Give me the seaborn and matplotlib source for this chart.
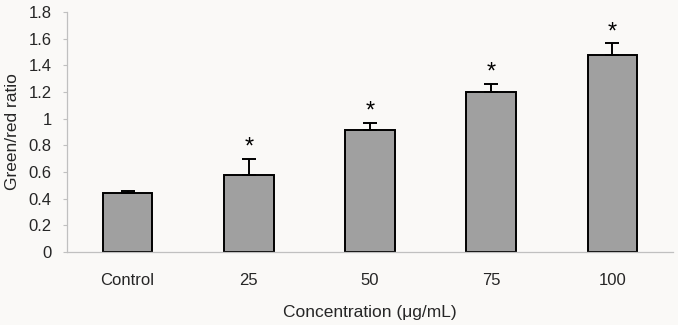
import matplotlib
matplotlib.use("Agg")
import matplotlib.pyplot as plt
import seaborn as sns
import numpy as np
import pandas as pd

categories = ["Control", "25", "50", "75", "100"]
ratio = [0.44, 0.58, 0.915, 1.20, 1.48]
err = [0.02, 0.12, 0.055, 0.06, 0.085]
significant = [False, True, True, True, True]
yticks = [0, 0.2, 0.4, 0.6, 0.8, 1.0, 1.2, 1.4, 1.6, 1.8]
ytick_labels = ["0", "0.2", "0.4", "0.6", "0.8", "1", "1.2", "1.4", "1.6", "1.8"]

sns.set_theme(style="white")
plt.rcParams["font.family"] = ["Liberation Sans", "DejaVu Sans"]

bg = "#faf9f7"
fig = plt.figure(figsize=(6.78, 3.25), dpi=100, facecolor=bg)
ax = fig.add_axes([0.0988, 0.2246, 0.8938, 0.7384], facecolor=bg)

df = pd.DataFrame({"cat": categories, "val": ratio})
sns.barplot(data=df, x="cat", y="val", color="#a0a0a0", saturation=1,
            edgecolor="black", linewidth=1.4, width=0.41, ax=ax, errorbar=None)

xs = [p.get_x() + p.get_width() / 2 for p in ax.patches]
ax.errorbar(xs, ratio, yerr=[np.zeros(len(err)), err], fmt="none",
            ecolor="black", elinewidth=1.4, capsize=5, capthick=1.4, zorder=5)
for x, v, e, s in zip(xs, ratio, err, significant):
    if s:
        ax.text(x, v + e + 0.0, "*", ha="center", va="bottom", fontsize=17, color="black")

ax.set_xlim(-0.5, 4.5)
ax.set_ylim(0, 1.8)
ax.set_yticks(yticks)
ax.set_yticklabels(ytick_labels, fontsize=12)
ax.set_xticks(range(len(categories)))
ax.set_xticklabels(categories, fontsize=12)
ax.tick_params(axis="x", length=0, pad=15)
ax.set_xticks([0.5, 1.5, 2.5, 3.5, 4.5], minor=True)
ax.tick_params(axis="x", which="minor", direction="in", length=5, color="#c0c0c0", width=0.8)
ax.tick_params(axis="y", length=3, direction="out", color="#c0c0c0", width=0.8, pad=8, left=True)

for s in ["top", "right"]:
    ax.spines[s].set_visible(False)
for s in ["left", "bottom"]:
    ax.spines[s].set_color("#c0c0c0")
    ax.spines[s].set_linewidth(0.9)

ax.set_xlabel("Concentration (μg/mL)", fontsize=12.5, labelpad=12)
ax.set_ylabel("Green/red ratio", fontsize=12.5, labelpad=6)

fig.savefig("out.png", dpi=100, facecolor=bg)
